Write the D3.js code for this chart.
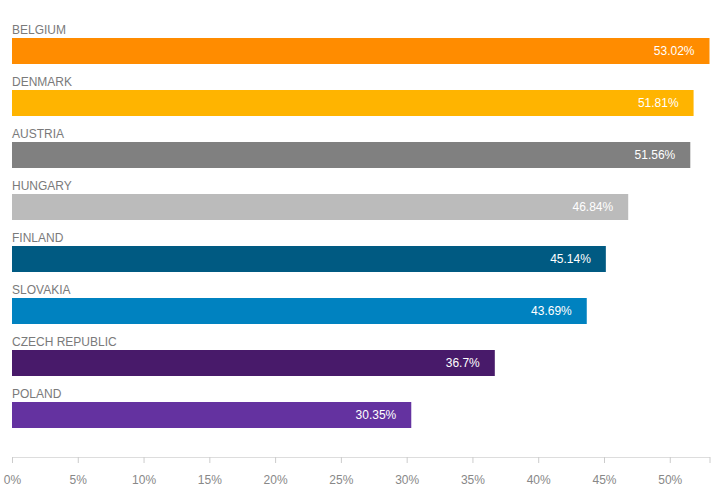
<!DOCTYPE html>
<html><head><meta charset="utf-8">
<script src="https://cdn.jsdelivr.net/npm/d3@7"></script>
<style>body{margin:0;background:#fff}svg{display:block}text{font-family:"Liberation Sans",Arial,sans-serif}</style>
</head><body>
<svg id="c" width="723" height="494"></svg>
<script>
const categories = ["BELGIUM","DENMARK","AUSTRIA","HUNGARY","FINLAND","SLOVAKIA","CZECH REPUBLIC","POLAND"];
const values = [53.02, 51.81, 51.56, 46.84, 45.14, 43.69, 36.7, 30.35];
const valueLabels = ["53.02%","51.81%","51.56%","46.84%","45.14%","43.69%","36.7%","30.35%"];
const colors = ["#ff8c00","#ffb400","#808080","#bbbbbb","#005a82","#0082c0","#481a6a","#6432a0"];
const tickValues = [0,5,10,15,20,25,30,35,40,45,50];
const tickLabels = ["0%","5%","10%","15%","20%","25%","30%","35%","40%","45%","50%"];

const svg = d3.select("#c");
const x = d3.scaleLinear().domain([0, 53.02]).range([12, 709.5]);
const y = d3.scaleBand().domain(categories).range([22, 438]).paddingInner(0).paddingOuter(0);
const barH = 26;
const rowOff = 16;

const g = svg.append("g");
const rows = g.selectAll("g.row").data(categories).join("g").attr("class","row");
rows.append("rect")
  .attr("x", x(0))
  .attr("y", d => y(d) + rowOff)
  .attr("width", (d,i) => x(values[i]) - x(0))
  .attr("height", barH)
  .attr("fill", (d,i) => colors[i]);
rows.append("text")
  .attr("x", x(0))
  .attr("y", d => y(d) + rowOff - 4)
  .attr("fill", "#7a7a7a")
  .attr("font-size", 12)
  .text(d => d);
rows.append("text")
  .attr("x", (d,i) => x(values[i]) - 15)
  .attr("y", d => y(d) + rowOff + barH/2 + 4)
  .attr("text-anchor", "end")
  .attr("fill", "#fff")
  .attr("font-size", 12)
  .text((d,i) => valueLabels[i]);

const axis = d3.axisBottom(x).tickValues(tickValues.concat([53.02]))
  .tickFormat((d) => { const k = tickValues.indexOf(d); return k >= 0 ? tickLabels[k] : ""; })
  .tickSize(6).tickSizeOuter(0);
const ax = svg.append("g").attr("transform","translate(0,457)").call(axis);
ax.select(".domain").attr("stroke","#dddddd");
ax.selectAll(".tick line").attr("stroke","#cccccc");
ax.selectAll(".tick text").attr("fill","#888").attr("font-size",12)
  .attr("font-family","Liberation Sans, Arial, sans-serif").attr("y", 0).attr("dy", 0)
  .attr("transform", "translate(0,27)");
</script>
</body></html>
